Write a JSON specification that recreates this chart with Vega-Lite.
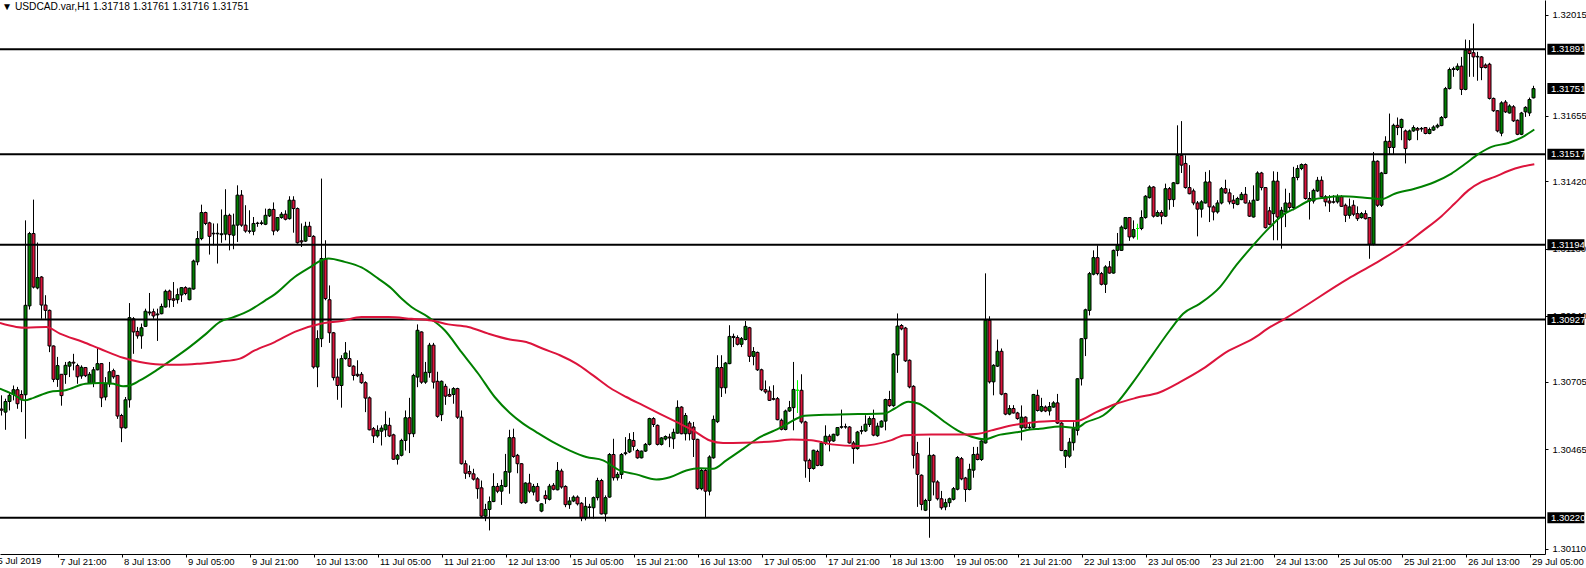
{
"$schema": "https://vega.github.io/schema/vega-lite/v6.json",
"width": 1545, "height": 554,
"autosize": {"type": "none"},
"padding": {"left": 0, "top": 0, "right": 41, "bottom": 14},
"background": "white",
"title": {"text": "▼  USDCAD.var,H1  1.31718 1.31761 1.31716 1.31751", "anchor": "start", "frame": "group", "offset": -12, "font": "Liberation Sans", "fontSize": 10.2, "fontWeight": "normal", "color": "black", "dx": 2},
"config": {"view": {"stroke": null}, "axis": {"grid": false, "title": null, "domainColor": "black", "tickColor": "black", "labelColor": "black", "labelFont": "Liberation Sans", "labelFontSize": 9.5, "labelOverlap": false, "labelFlush": false}},
"datasets": {
"c": [
{"i":2,"o":1.30608,"h":1.30657,"l":1.30585,"c":1.30604},
{"i":3,"o":1.30597,"h":1.30645,"l":1.30534,"c":1.30635},
{"i":4,"o":1.30635,"h":1.30669,"l":1.30603,"c":1.30657},
{"i":5,"o":1.30660,"h":1.30692,"l":1.30639,"c":1.30677},
{"i":6,"o":1.30677,"h":1.30687,"l":1.30609,"c":1.30627},
{"i":7,"o":1.30660,"h":1.30675,"l":1.30597,"c":1.30641},
{"i":8,"o":1.30659,"h":1.31281,"l":1.30502,"c":1.30978},
{"i":9,"o":1.30976,"h":1.31240,"l":1.30963,"c":1.31234},
{"i":10,"o":1.31234,"h":1.31355,"l":1.31038,"c":1.31043},
{"i":11,"o":1.31040,"h":1.31202,"l":1.31035,"c":1.31077},
{"i":12,"o":1.31079,"h":1.31082,"l":1.30930,"c":1.30979},
{"i":13,"o":1.30979,"h":1.31014,"l":1.30930,"c":1.30960},
{"i":14,"o":1.30960,"h":1.30963,"l":1.30811,"c":1.30833},
{"i":15,"o":1.30833,"h":1.30835,"l":1.30704,"c":1.30714},
{"i":16,"o":1.30714,"h":1.30794,"l":1.30687,"c":1.30763},
{"i":17,"o":1.30732,"h":1.30732,"l":1.30620,"c":1.30656},
{"i":18,"o":1.30731,"h":1.30776,"l":1.30698,"c":1.30764},
{"i":19,"o":1.30761,"h":1.30779,"l":1.30722,"c":1.30775},
{"i":20,"o":1.30775,"h":1.30805,"l":1.30746,"c":1.30772},
{"i":21,"o":1.30763,"h":1.30770,"l":1.30698,"c":1.30723},
{"i":22,"o":1.30726,"h":1.30764,"l":1.30716,"c":1.30757},
{"i":23,"o":1.30756,"h":1.30758,"l":1.30722,"c":1.30727},
{"i":24,"o":1.30701,"h":1.30740,"l":1.30698,"c":1.30732},
{"i":25,"o":1.30701,"h":1.30758,"l":1.30686,"c":1.30748},
{"i":26,"o":1.30748,"h":1.30829,"l":1.30746,"c":1.30770},
{"i":27,"o":1.30770,"h":1.30772,"l":1.30615,"c":1.30648},
{"i":28,"o":1.30651,"h":1.30722,"l":1.30639,"c":1.30698},
{"i":29,"o":1.30698,"h":1.30776,"l":1.30686,"c":1.30741},
{"i":30,"o":1.30745,"h":1.30752,"l":1.30716,"c":1.30723},
{"i":31,"o":1.30728,"h":1.30728,"l":1.30573,"c":1.30583},
{"i":32,"o":1.30585,"h":1.30591,"l":1.30490,"c":1.30541},
{"i":33,"o":1.30541,"h":1.30651,"l":1.30538,"c":1.30641},
{"i":34,"o":1.30641,"h":1.30986,"l":1.30613,"c":1.30934},
{"i":35,"o":1.30930,"h":1.30936,"l":1.30805,"c":1.30883},
{"i":36,"o":1.30885,"h":1.30901,"l":1.30859,"c":1.30869},
{"i":37,"o":1.30869,"h":1.30913,"l":1.30823,"c":1.30898},
{"i":38,"o":1.30903,"h":1.30966,"l":1.30901,"c":1.30957},
{"i":39,"o":1.30954,"h":1.31022,"l":1.30942,"c":1.30951},
{"i":40,"o":1.30955,"h":1.30966,"l":1.30930,"c":1.30940},
{"i":41,"o":1.30944,"h":1.30966,"l":1.30851,"c":1.30947},
{"i":42,"o":1.30948,"h":1.30984,"l":1.30946,"c":1.30974},
{"i":43,"o":1.30972,"h":1.31034,"l":1.30970,"c":1.31028},
{"i":44,"o":1.31029,"h":1.31034,"l":1.30970,"c":1.30998},
{"i":45,"o":1.31001,"h":1.31061,"l":1.30972,"c":1.30996},
{"i":46,"o":1.30998,"h":1.31038,"l":1.30984,"c":1.31016},
{"i":47,"o":1.31015,"h":1.31043,"l":1.30990,"c":1.31041},
{"i":48,"o":1.31041,"h":1.31046,"l":1.31014,"c":1.31020},
{"i":49,"o":1.30998,"h":1.31041,"l":1.30996,"c":1.31039},
{"i":50,"o":1.31036,"h":1.31141,"l":1.31034,"c":1.31136},
{"i":51,"o":1.31133,"h":1.31243,"l":1.31121,"c":1.31216},
{"i":52,"o":1.31216,"h":1.31337,"l":1.31210,"c":1.31309},
{"i":53,"o":1.31309,"h":1.31312,"l":1.31264,"c":1.31270},
{"i":54,"o":1.31272,"h":1.31276,"l":1.31159,"c":1.31224},
{"i":55,"o":1.31235,"h":1.31270,"l":1.31192,"c":1.31233},
{"i":56,"o":1.31233,"h":1.31270,"l":1.31127,"c":1.31235},
{"i":57,"o":1.31230,"h":1.31320,"l":1.31201,"c":1.31233},
{"i":58,"o":1.31232,"h":1.31392,"l":1.31210,"c":1.31299},
{"i":59,"o":1.31299,"h":1.31305,"l":1.31174,"c":1.31230},
{"i":60,"o":1.31228,"h":1.31305,"l":1.31178,"c":1.31264},
{"i":61,"o":1.31264,"h":1.31406,"l":1.31204,"c":1.31371},
{"i":62,"o":1.31371,"h":1.31389,"l":1.31258,"c":1.31264},
{"i":63,"o":1.31264,"h":1.31335,"l":1.31237,"c":1.31243},
{"i":64,"o":1.31243,"h":1.31317,"l":1.31234,"c":1.31242},
{"i":65,"o":1.31242,"h":1.31293,"l":1.31228,"c":1.31270},
{"i":66,"o":1.31270,"h":1.31276,"l":1.31258,"c":1.31271},
{"i":67,"o":1.31270,"h":1.31281,"l":1.31264,"c":1.31272},
{"i":68,"o":1.31267,"h":1.31323,"l":1.31264,"c":1.31299},
{"i":69,"o":1.31297,"h":1.31323,"l":1.31293,"c":1.31320},
{"i":70,"o":1.31320,"h":1.31345,"l":1.31228,"c":1.31243},
{"i":71,"o":1.31246,"h":1.31293,"l":1.31240,"c":1.31291},
{"i":72,"o":1.31291,"h":1.31311,"l":1.31287,"c":1.31303},
{"i":73,"o":1.31303,"h":1.31317,"l":1.31281,"c":1.31285},
{"i":74,"o":1.31287,"h":1.31367,"l":1.31284,"c":1.31353},
{"i":75,"o":1.31353,"h":1.31367,"l":1.31237,"c":1.31323},
{"i":76,"o":1.31323,"h":1.31327,"l":1.31198,"c":1.31201},
{"i":77,"o":1.31208,"h":1.31270,"l":1.31186,"c":1.31204},
{"i":78,"o":1.31207,"h":1.31276,"l":1.31204,"c":1.31260},
{"i":79,"o":1.31260,"h":1.31276,"l":1.31222,"c":1.31224},
{"i":80,"o":1.31224,"h":1.31228,"l":1.30752,"c":1.30758},
{"i":81,"o":1.30758,"h":1.30889,"l":1.30686,"c":1.30859},
{"i":82,"o":1.30859,"h":1.31430,"l":1.30829,"c":1.31145},
{"i":83,"o":1.31145,"h":1.31210,"l":1.30996,"c":1.31002},
{"i":84,"o":1.30998,"h":1.31049,"l":1.30844,"c":1.30880},
{"i":85,"o":1.30880,"h":1.30883,"l":1.30710,"c":1.30720},
{"i":86,"o":1.30722,"h":1.30788,"l":1.30641,"c":1.30692},
{"i":87,"o":1.30692,"h":1.30800,"l":1.30613,"c":1.30788},
{"i":88,"o":1.30788,"h":1.30847,"l":1.30784,"c":1.30808},
{"i":89,"o":1.30788,"h":1.30817,"l":1.30758,"c":1.30761},
{"i":90,"o":1.30761,"h":1.30764,"l":1.30710,"c":1.30728},
{"i":91,"o":1.30732,"h":1.30782,"l":1.30722,"c":1.30727},
{"i":92,"o":1.30732,"h":1.30740,"l":1.30698,"c":1.30702},
{"i":93,"o":1.30702,"h":1.30707,"l":1.30597,"c":1.30647},
{"i":94,"o":1.30648,"h":1.30653,"l":1.30532,"c":1.30534},
{"i":95,"o":1.30538,"h":1.30544,"l":1.30487,"c":1.30512},
{"i":96,"o":1.30512,"h":1.30550,"l":1.30506,"c":1.30532},
{"i":97,"o":1.30529,"h":1.30550,"l":1.30478,"c":1.30540},
{"i":98,"o":1.30534,"h":1.30600,"l":1.30508,"c":1.30552},
{"i":99,"o":1.30550,"h":1.30577,"l":1.30508,"c":1.30512},
{"i":100,"o":1.30516,"h":1.30520,"l":1.30427,"c":1.30429},
{"i":101,"o":1.30429,"h":1.30448,"l":1.30410,"c":1.30443},
{"i":102,"o":1.30443,"h":1.30502,"l":1.30439,"c":1.30496},
{"i":103,"o":1.30496,"h":1.30603,"l":1.30460,"c":1.30577},
{"i":104,"o":1.30577,"h":1.30648,"l":1.30451,"c":1.30520},
{"i":105,"o":1.30520,"h":1.30734,"l":1.30508,"c":1.30728},
{"i":106,"o":1.30722,"h":1.30910,"l":1.30686,"c":1.30889},
{"i":107,"o":1.30883,"h":1.30885,"l":1.30698,"c":1.30704},
{"i":108,"o":1.30704,"h":1.30776,"l":1.30698,"c":1.30739},
{"i":109,"o":1.30738,"h":1.30844,"l":1.30720,"c":1.30836},
{"i":110,"o":1.30836,"h":1.30844,"l":1.30681,"c":1.30704},
{"i":111,"o":1.30707,"h":1.30741,"l":1.30577,"c":1.30582},
{"i":112,"o":1.30588,"h":1.30710,"l":1.30565,"c":1.30707},
{"i":113,"o":1.30689,"h":1.30698,"l":1.30623,"c":1.30654},
{"i":114,"o":1.30660,"h":1.30681,"l":1.30651,"c":1.30654},
{"i":115,"o":1.30660,"h":1.30686,"l":1.30627,"c":1.30681},
{"i":116,"o":1.30681,"h":1.30684,"l":1.30573,"c":1.30579},
{"i":117,"o":1.30579,"h":1.30603,"l":1.30410,"c":1.30413},
{"i":118,"o":1.30413,"h":1.30425,"l":1.30359,"c":1.30379},
{"i":119,"o":1.30385,"h":1.30407,"l":1.30365,"c":1.30377},
{"i":120,"o":1.30377,"h":1.30395,"l":1.30353,"c":1.30358},
{"i":121,"o":1.30359,"h":1.30365,"l":1.30288,"c":1.30324},
{"i":122,"o":1.30327,"h":1.30353,"l":1.30222,"c":1.30226},
{"i":123,"o":1.30226,"h":1.30270,"l":1.30208,"c":1.30250},
{"i":124,"o":1.30250,"h":1.30296,"l":1.30175,"c":1.30278},
{"i":125,"o":1.30278,"h":1.30379,"l":1.30276,"c":1.30332},
{"i":126,"o":1.30332,"h":1.30344,"l":1.30308,"c":1.30315},
{"i":127,"o":1.30315,"h":1.30356,"l":1.30266,"c":1.30335},
{"i":128,"o":1.30332,"h":1.30448,"l":1.30329,"c":1.30385},
{"i":129,"o":1.30383,"h":1.30534,"l":1.30306,"c":1.30506},
{"i":130,"o":1.30506,"h":1.30538,"l":1.30434,"c":1.30439},
{"i":131,"o":1.30443,"h":1.30448,"l":1.30379,"c":1.30413},
{"i":132,"o":1.30413,"h":1.30415,"l":1.30270,"c":1.30274},
{"i":133,"o":1.30274,"h":1.30347,"l":1.30270,"c":1.30344},
{"i":134,"o":1.30344,"h":1.30377,"l":1.30308,"c":1.30315},
{"i":135,"o":1.30312,"h":1.30341,"l":1.30300,"c":1.30332},
{"i":136,"o":1.30332,"h":1.30344,"l":1.30276,"c":1.30280},
{"i":137,"o":1.30244,"h":1.30272,"l":1.30240,"c":1.30270},
{"i":138,"o":1.30300,"h":1.30318,"l":1.30270,"c":1.30288},
{"i":139,"o":1.30286,"h":1.30341,"l":1.30282,"c":1.30333},
{"i":140,"o":1.30336,"h":1.30344,"l":1.30318,"c":1.30322},
{"i":141,"o":1.30320,"h":1.30419,"l":1.30318,"c":1.30389},
{"i":142,"o":1.30387,"h":1.30395,"l":1.30324,"c":1.30330},
{"i":143,"o":1.30332,"h":1.30336,"l":1.30258,"c":1.30267},
{"i":144,"o":1.30267,"h":1.30294,"l":1.30252,"c":1.30280},
{"i":145,"o":1.30280,"h":1.30300,"l":1.30276,"c":1.30294},
{"i":146,"o":1.30294,"h":1.30300,"l":1.30264,"c":1.30270},
{"i":147,"o":1.30272,"h":1.30276,"l":1.30208,"c":1.30220},
{"i":148,"o":1.30220,"h":1.30294,"l":1.30211,"c":1.30261},
{"i":149,"o":1.30257,"h":1.30270,"l":1.30222,"c":1.30259},
{"i":150,"o":1.30256,"h":1.30296,"l":1.30217,"c":1.30292},
{"i":151,"o":1.30292,"h":1.30363,"l":1.30282,"c":1.30353},
{"i":152,"o":1.30353,"h":1.30359,"l":1.30232,"c":1.30234},
{"i":153,"o":1.30234,"h":1.30300,"l":1.30207,"c":1.30292},
{"i":154,"o":1.30294,"h":1.30451,"l":1.30292,"c":1.30446},
{"i":155,"o":1.30446,"h":1.30502,"l":1.30353,"c":1.30363},
{"i":156,"o":1.30363,"h":1.30383,"l":1.30353,"c":1.30375},
{"i":157,"o":1.30375,"h":1.30451,"l":1.30359,"c":1.30446},
{"i":158,"o":1.30449,"h":1.30508,"l":1.30443,"c":1.30452},
{"i":159,"o":1.30455,"h":1.30522,"l":1.30451,"c":1.30499},
{"i":160,"o":1.30496,"h":1.30526,"l":1.30460,"c":1.30475},
{"i":161,"o":1.30460,"h":1.30466,"l":1.30431,"c":1.30434},
{"i":162,"o":1.30434,"h":1.30460,"l":1.30432,"c":1.30458},
{"i":163,"o":1.30458,"h":1.30487,"l":1.30455,"c":1.30482},
{"i":164,"o":1.30482,"h":1.30577,"l":1.30478,"c":1.30574},
{"i":165,"o":1.30574,"h":1.30579,"l":1.30544,"c":1.30553},
{"i":166,"o":1.30550,"h":1.30553,"l":1.30478,"c":1.30482},
{"i":167,"o":1.30482,"h":1.30508,"l":1.30478,"c":1.30505},
{"i":168,"o":1.30501,"h":1.30514,"l":1.30496,"c":1.30510},
{"i":169,"o":1.30508,"h":1.30520,"l":1.30472,"c":1.30505},
{"i":170,"o":1.30502,"h":1.30538,"l":1.30466,"c":1.30525},
{"i":171,"o":1.30522,"h":1.30639,"l":1.30520,"c":1.30614},
{"i":172,"o":1.30615,"h":1.30618,"l":1.30518,"c":1.30520},
{"i":173,"o":1.30520,"h":1.30594,"l":1.30496,"c":1.30585},
{"i":174,"o":1.30558,"h":1.30565,"l":1.30496,"c":1.30520},
{"i":175,"o":1.30544,"h":1.30562,"l":1.30437,"c":1.30500},
{"i":176,"o":1.30500,"h":1.30502,"l":1.30320,"c":1.30324},
{"i":177,"o":1.30324,"h":1.30395,"l":1.30318,"c":1.30389},
{"i":178,"o":1.30389,"h":1.30395,"l":1.30222,"c":1.30315},
{"i":179,"o":1.30315,"h":1.30443,"l":1.30300,"c":1.30437},
{"i":180,"o":1.30434,"h":1.30585,"l":1.30431,"c":1.30571},
{"i":181,"o":1.30563,"h":1.30800,"l":1.30558,"c":1.30756},
{"i":182,"o":1.30756,"h":1.30800,"l":1.30651,"c":1.30684},
{"i":183,"o":1.30684,"h":1.30776,"l":1.30663,"c":1.30772},
{"i":184,"o":1.30770,"h":1.30907,"l":1.30768,"c":1.30867},
{"i":185,"o":1.30867,"h":1.30877,"l":1.30829,"c":1.30863},
{"i":186,"o":1.30863,"h":1.30871,"l":1.30835,"c":1.30839},
{"i":187,"o":1.30839,"h":1.30865,"l":1.30829,"c":1.30859},
{"i":188,"o":1.30856,"h":1.30922,"l":1.30853,"c":1.30903},
{"i":189,"o":1.30898,"h":1.30901,"l":1.30776,"c":1.30796},
{"i":190,"o":1.30796,"h":1.30829,"l":1.30764,"c":1.30813},
{"i":191,"o":1.30810,"h":1.30813,"l":1.30744,"c":1.30748},
{"i":192,"o":1.30748,"h":1.30752,"l":1.30672,"c":1.30677},
{"i":193,"o":1.30677,"h":1.30710,"l":1.30663,"c":1.30669},
{"i":194,"o":1.30672,"h":1.30689,"l":1.30637,"c":1.30639},
{"i":195,"o":1.30645,"h":1.30693,"l":1.30639,"c":1.30643},
{"i":196,"o":1.30645,"h":1.30651,"l":1.30568,"c":1.30570},
{"i":197,"o":1.30568,"h":1.30574,"l":1.30532,"c":1.30536},
{"i":198,"o":1.30535,"h":1.30606,"l":1.30532,"c":1.30601},
{"i":199,"o":1.30601,"h":1.30637,"l":1.30598,"c":1.30613},
{"i":200,"o":1.30613,"h":1.30776,"l":1.30532,"c":1.30678},
{"i":201,"o":1.30675,"h":1.30711,"l":1.30594,"c":1.30675},
{"i":202,"o":1.30675,"h":1.30732,"l":1.30556,"c":1.30562},
{"i":203,"o":1.30562,"h":1.30566,"l":1.30363,"c":1.30423},
{"i":204,"o":1.30425,"h":1.30431,"l":1.30348,"c":1.30396},
{"i":205,"o":1.30396,"h":1.30463,"l":1.30392,"c":1.30461},
{"i":206,"o":1.30457,"h":1.30463,"l":1.30404,"c":1.30407},
{"i":207,"o":1.30407,"h":1.30494,"l":1.30404,"c":1.30487},
{"i":208,"o":1.30485,"h":1.30550,"l":1.30479,"c":1.30511},
{"i":209,"o":1.30511,"h":1.30518,"l":1.30457,"c":1.30494},
{"i":210,"o":1.30494,"h":1.30520,"l":1.30491,"c":1.30518},
{"i":211,"o":1.30515,"h":1.30544,"l":1.30511,"c":1.30542},
{"i":212,"o":1.30543,"h":1.30606,"l":1.30538,"c":1.30545},
{"i":213,"o":1.30545,"h":1.30556,"l":1.30538,"c":1.30544},
{"i":214,"o":1.30544,"h":1.30547,"l":1.30485,"c":1.30487},
{"i":215,"o":1.30487,"h":1.30494,"l":1.30413,"c":1.30467},
{"i":216,"o":1.30467,"h":1.30530,"l":1.30463,"c":1.30526},
{"i":217,"o":1.30529,"h":1.30548,"l":1.30518,"c":1.30531},
{"i":218,"o":1.30530,"h":1.30586,"l":1.30526,"c":1.30554},
{"i":219,"o":1.30553,"h":1.30582,"l":1.30544,"c":1.30574},
{"i":220,"o":1.30574,"h":1.30606,"l":1.30511,"c":1.30515},
{"i":221,"o":1.30513,"h":1.30559,"l":1.30509,"c":1.30547},
{"i":222,"o":1.30544,"h":1.30568,"l":1.30542,"c":1.30565},
{"i":223,"o":1.30565,"h":1.30645,"l":1.30532,"c":1.30642},
{"i":224,"o":1.30642,"h":1.30673,"l":1.30616,"c":1.30620},
{"i":225,"o":1.30620,"h":1.30808,"l":1.30616,"c":1.30804},
{"i":226,"o":1.30801,"h":1.30949,"l":1.30737,"c":1.30904},
{"i":227,"o":1.30906,"h":1.30911,"l":1.30889,"c":1.30894},
{"i":228,"o":1.30897,"h":1.30901,"l":1.30776,"c":1.30780},
{"i":229,"o":1.30782,"h":1.30785,"l":1.30682,"c":1.30687},
{"i":230,"o":1.30689,"h":1.30693,"l":1.30396,"c":1.30443},
{"i":231,"o":1.30449,"h":1.30491,"l":1.30259,"c":1.30375},
{"i":232,"o":1.30372,"h":1.30375,"l":1.30247,"c":1.30268},
{"i":233,"o":1.30247,"h":1.30288,"l":1.30244,"c":1.30282},
{"i":234,"o":1.30282,"h":1.30506,"l":1.30149,"c":1.30443},
{"i":235,"o":1.30443,"h":1.30447,"l":1.30300,"c":1.30348},
{"i":236,"o":1.30348,"h":1.30354,"l":1.30282,"c":1.30288},
{"i":237,"o":1.30288,"h":1.30316,"l":1.30249,"c":1.30256},
{"i":238,"o":1.30259,"h":1.30288,"l":1.30247,"c":1.30274},
{"i":239,"o":1.30274,"h":1.30292,"l":1.30259,"c":1.30288},
{"i":240,"o":1.30286,"h":1.30330,"l":1.30282,"c":1.30324},
{"i":241,"o":1.30322,"h":1.30440,"l":1.30318,"c":1.30435},
{"i":242,"o":1.30431,"h":1.30437,"l":1.30354,"c":1.30359},
{"i":243,"o":1.30362,"h":1.30366,"l":1.30277,"c":1.30321},
{"i":244,"o":1.30321,"h":1.30413,"l":1.30318,"c":1.30393},
{"i":245,"o":1.30390,"h":1.30473,"l":1.30363,"c":1.30446},
{"i":246,"o":1.30447,"h":1.30473,"l":1.30425,"c":1.30428},
{"i":247,"o":1.30428,"h":1.30497,"l":1.30423,"c":1.30494},
{"i":248,"o":1.30487,"h":1.31092,"l":1.30485,"c":1.30925},
{"i":249,"o":1.30925,"h":1.30939,"l":1.30699,"c":1.30705},
{"i":250,"o":1.30705,"h":1.30768,"l":1.30657,"c":1.30764},
{"i":251,"o":1.30761,"h":1.30856,"l":1.30758,"c":1.30814},
{"i":252,"o":1.30814,"h":1.30824,"l":1.30657,"c":1.30661},
{"i":253,"o":1.30663,"h":1.30666,"l":1.30586,"c":1.30590},
{"i":254,"o":1.30590,"h":1.30622,"l":1.30586,"c":1.30610},
{"i":255,"o":1.30610,"h":1.30622,"l":1.30592,"c":1.30594},
{"i":256,"o":1.30594,"h":1.30598,"l":1.30570,"c":1.30574},
{"i":257,"o":1.30541,"h":1.30621,"l":1.30496,"c":1.30579},
{"i":258,"o":1.30579,"h":1.30582,"l":1.30538,"c":1.30541},
{"i":259,"o":1.30541,"h":1.30561,"l":1.30534,"c":1.30543},
{"i":260,"o":1.30543,"h":1.30662,"l":1.30538,"c":1.30660},
{"i":261,"o":1.30657,"h":1.30677,"l":1.30599,"c":1.30603},
{"i":262,"o":1.30601,"h":1.30648,"l":1.30597,"c":1.30617},
{"i":263,"o":1.30615,"h":1.30621,"l":1.30597,"c":1.30601},
{"i":264,"o":1.30601,"h":1.30633,"l":1.30585,"c":1.30617},
{"i":265,"o":1.30615,"h":1.30636,"l":1.30613,"c":1.30630},
{"i":266,"o":1.30630,"h":1.30662,"l":1.30555,"c":1.30558},
{"i":267,"o":1.30558,"h":1.30561,"l":1.30458,"c":1.30460},
{"i":268,"o":1.30440,"h":1.30463,"l":1.30398,"c":1.30460},
{"i":269,"o":1.30440,"h":1.30505,"l":1.30434,"c":1.30490},
{"i":270,"o":1.30488,"h":1.30561,"l":1.30460,"c":1.30538},
{"i":271,"o":1.30532,"h":1.30718,"l":1.30514,"c":1.30716},
{"i":272,"o":1.30716,"h":1.30861,"l":1.30692,"c":1.30859},
{"i":273,"o":1.30859,"h":1.30966,"l":1.30797,"c":1.30962},
{"i":274,"o":1.30960,"h":1.31097,"l":1.30942,"c":1.31091},
{"i":275,"o":1.31089,"h":1.31174,"l":1.31085,"c":1.31148},
{"i":276,"o":1.31148,"h":1.31192,"l":1.31085,"c":1.31091},
{"i":277,"o":1.31091,"h":1.31097,"l":1.31049,"c":1.31053},
{"i":278,"o":1.31053,"h":1.31121,"l":1.31022,"c":1.31115},
{"i":279,"o":1.31115,"h":1.31136,"l":1.31091,"c":1.31093},
{"i":280,"o":1.31093,"h":1.31177,"l":1.31091,"c":1.31174},
{"i":281,"o":1.31174,"h":1.31236,"l":1.31153,"c":1.31192},
{"i":282,"o":1.31174,"h":1.31263,"l":1.31172,"c":1.31257},
{"i":283,"o":1.31252,"h":1.31293,"l":1.31248,"c":1.31291},
{"i":284,"o":1.31291,"h":1.31293,"l":1.31208,"c":1.31222},
{"i":285,"o":1.31222,"h":1.31281,"l":1.31216,"c":1.31248},
{"i":286,"o":1.31252,"h":1.31269,"l":1.31212,"c":1.31252},
{"i":287,"o":1.31252,"h":1.31317,"l":1.31246,"c":1.31291},
{"i":288,"o":1.31291,"h":1.31371,"l":1.31287,"c":1.31367},
{"i":289,"o":1.31362,"h":1.31406,"l":1.31359,"c":1.31400},
{"i":290,"o":1.31400,"h":1.31403,"l":1.31291,"c":1.31296},
{"i":291,"o":1.31296,"h":1.31317,"l":1.31293,"c":1.31309},
{"i":292,"o":1.31309,"h":1.31317,"l":1.31267,"c":1.31296},
{"i":293,"o":1.31296,"h":1.31412,"l":1.31293,"c":1.31394},
{"i":294,"o":1.31394,"h":1.31400,"l":1.31319,"c":1.31355},
{"i":295,"o":1.31355,"h":1.31418,"l":1.31329,"c":1.31415},
{"i":296,"o":1.31412,"h":1.31620,"l":1.31410,"c":1.31513},
{"i":297,"o":1.31513,"h":1.31635,"l":1.31450,"c":1.31478},
{"i":298,"o":1.31484,"h":1.31513,"l":1.31394,"c":1.31398},
{"i":299,"o":1.31398,"h":1.31478,"l":1.31374,"c":1.31376},
{"i":300,"o":1.31386,"h":1.31394,"l":1.31335,"c":1.31343},
{"i":301,"o":1.31343,"h":1.31350,"l":1.31224,"c":1.31321},
{"i":302,"o":1.31321,"h":1.31353,"l":1.31291,"c":1.31347},
{"i":303,"o":1.31343,"h":1.31454,"l":1.31341,"c":1.31418},
{"i":304,"o":1.31418,"h":1.31460,"l":1.31275,"c":1.31329},
{"i":305,"o":1.31329,"h":1.31335,"l":1.31281,"c":1.31311},
{"i":306,"o":1.31311,"h":1.31353,"l":1.31305,"c":1.31343},
{"i":307,"o":1.31343,"h":1.31400,"l":1.31338,"c":1.31394},
{"i":308,"o":1.31394,"h":1.31426,"l":1.31376,"c":1.31379},
{"i":309,"o":1.31379,"h":1.31394,"l":1.31338,"c":1.31347},
{"i":310,"o":1.31353,"h":1.31371,"l":1.31323,"c":1.31341},
{"i":311,"o":1.31338,"h":1.31365,"l":1.31335,"c":1.31359},
{"i":312,"o":1.31355,"h":1.31382,"l":1.31353,"c":1.31374},
{"i":313,"o":1.31374,"h":1.31400,"l":1.31341,"c":1.31343},
{"i":314,"o":1.31343,"h":1.31353,"l":1.31293,"c":1.31296},
{"i":315,"o":1.31293,"h":1.31406,"l":1.31291,"c":1.31353},
{"i":316,"o":1.31353,"h":1.31456,"l":1.31350,"c":1.31450},
{"i":317,"o":1.31450,"h":1.31454,"l":1.31388,"c":1.31398},
{"i":318,"o":1.31398,"h":1.31400,"l":1.31252,"c":1.31255},
{"i":319,"o":1.31315,"h":1.31329,"l":1.31263,"c":1.31267},
{"i":320,"o":1.31305,"h":1.31456,"l":1.31210,"c":1.31421},
{"i":321,"o":1.31421,"h":1.31454,"l":1.31210,"c":1.31293},
{"i":322,"o":1.31293,"h":1.31329,"l":1.31180,"c":1.31317},
{"i":323,"o":1.31311,"h":1.31394,"l":1.31257,"c":1.31343},
{"i":324,"o":1.31343,"h":1.31379,"l":1.31319,"c":1.31327},
{"i":325,"o":1.31327,"h":1.31472,"l":1.31317,"c":1.31434},
{"i":326,"o":1.31434,"h":1.31478,"l":1.31424,"c":1.31466},
{"i":327,"o":1.31466,"h":1.31484,"l":1.31460,"c":1.31480},
{"i":328,"o":1.31480,"h":1.31484,"l":1.31355,"c":1.31359},
{"i":329,"o":1.31359,"h":1.31382,"l":1.31284,"c":1.31350},
{"i":330,"o":1.31350,"h":1.31394,"l":1.31341,"c":1.31388},
{"i":331,"o":1.31386,"h":1.31436,"l":1.31382,"c":1.31424},
{"i":332,"o":1.31424,"h":1.31438,"l":1.31362,"c":1.31365},
{"i":333,"o":1.31365,"h":1.31371,"l":1.31331,"c":1.31347},
{"i":334,"o":1.31350,"h":1.31371,"l":1.31311,"c":1.31343},
{"i":335,"o":1.31347,"h":1.31371,"l":1.31341,"c":1.31346},
{"i":336,"o":1.31347,"h":1.31374,"l":1.31341,"c":1.31365},
{"i":337,"o":1.31365,"h":1.31371,"l":1.31329,"c":1.31331},
{"i":338,"o":1.31335,"h":1.31341,"l":1.31275,"c":1.31299},
{"i":339,"o":1.31299,"h":1.31359,"l":1.31287,"c":1.31329},
{"i":340,"o":1.31335,"h":1.31353,"l":1.31296,"c":1.31303},
{"i":341,"o":1.31305,"h":1.31331,"l":1.31279,"c":1.31287},
{"i":342,"o":1.31291,"h":1.31311,"l":1.31287,"c":1.31305},
{"i":343,"o":1.31305,"h":1.31317,"l":1.31284,"c":1.31287},
{"i":344,"o":1.31291,"h":1.31293,"l":1.31144,"c":1.31196},
{"i":345,"o":1.31196,"h":1.31525,"l":1.31192,"c":1.31492},
{"i":346,"o":1.31492,"h":1.31495,"l":1.31329,"c":1.31335},
{"i":347,"o":1.31335,"h":1.31454,"l":1.31329,"c":1.31450},
{"i":348,"o":1.31448,"h":1.31581,"l":1.31446,"c":1.31563},
{"i":349,"o":1.31563,"h":1.31662,"l":1.31517,"c":1.31541},
{"i":350,"o":1.31541,"h":1.31626,"l":1.31517,"c":1.31620},
{"i":351,"o":1.31620,"h":1.31648,"l":1.31585,"c":1.31612},
{"i":352,"o":1.31612,"h":1.31644,"l":1.31567,"c":1.31641},
{"i":353,"o":1.31600,"h":1.31605,"l":1.31484,"c":1.31537},
{"i":354,"o":1.31569,"h":1.31605,"l":1.31565,"c":1.31600},
{"i":355,"o":1.31600,"h":1.31620,"l":1.31597,"c":1.31612},
{"i":356,"o":1.31609,"h":1.31614,"l":1.31567,"c":1.31603},
{"i":357,"o":1.31607,"h":1.31614,"l":1.31597,"c":1.31609},
{"i":358,"o":1.31612,"h":1.31614,"l":1.31588,"c":1.31591},
{"i":359,"o":1.31591,"h":1.31612,"l":1.31588,"c":1.31605},
{"i":360,"o":1.31603,"h":1.31620,"l":1.31600,"c":1.31614},
{"i":361,"o":1.31614,"h":1.31626,"l":1.31609,"c":1.31620},
{"i":362,"o":1.31619,"h":1.31653,"l":1.31617,"c":1.31648},
{"i":363,"o":1.31648,"h":1.31757,"l":1.31644,"c":1.31751},
{"i":364,"o":1.31751,"h":1.31826,"l":1.31748,"c":1.31819},
{"i":365,"o":1.31819,"h":1.31829,"l":1.31793,"c":1.31822},
{"i":366,"o":1.31819,"h":1.31841,"l":1.31814,"c":1.31831},
{"i":367,"o":1.31831,"h":1.31864,"l":1.31728,"c":1.31748},
{"i":368,"o":1.31748,"h":1.31926,"l":1.31745,"c":1.31888},
{"i":369,"o":1.31888,"h":1.31924,"l":1.31793,"c":1.31876},
{"i":370,"o":1.31879,"h":1.31983,"l":1.31793,"c":1.31864},
{"i":371,"o":1.31864,"h":1.31882,"l":1.31779,"c":1.31866},
{"i":372,"o":1.31864,"h":1.31867,"l":1.31781,"c":1.31826},
{"i":373,"o":1.31835,"h":1.31841,"l":1.31823,"c":1.31826},
{"i":374,"o":1.31838,"h":1.31843,"l":1.31712,"c":1.31716},
{"i":375,"o":1.31716,"h":1.31719,"l":1.31668,"c":1.31672},
{"i":376,"o":1.31672,"h":1.31674,"l":1.31595,"c":1.31600},
{"i":377,"o":1.31592,"h":1.31706,"l":1.31581,"c":1.31700},
{"i":378,"o":1.31703,"h":1.31710,"l":1.31664,"c":1.31668},
{"i":379,"o":1.31664,"h":1.31695,"l":1.31662,"c":1.31689},
{"i":380,"o":1.31686,"h":1.31692,"l":1.31632,"c":1.31636},
{"i":381,"o":1.31638,"h":1.31641,"l":1.31585,"c":1.31588},
{"i":382,"o":1.31588,"h":1.31668,"l":1.31585,"c":1.31664},
{"i":383,"o":1.31668,"h":1.31688,"l":1.31650,"c":1.31684},
{"i":384,"o":1.31664,"h":1.31719,"l":1.31653,"c":1.31712},
{"i":385,"o":1.31718,"h":1.31761,"l":1.31716,"c":1.31751}
],
"ma": [
{"i":1.6,"v":1.30681,"s":"f"},{"i":5,"v":1.30660,"s":"f"},{"i":7.8,"v":1.30639,"s":"f"},{"i":10,"v":1.30648,"s":"f"},{"i":14,"v":1.30669,"s":"f"},{"i":18,"v":1.30675,"s":"f"},{"i":23,"v":1.30698,"s":"f"},{"i":26.6,"v":1.30701,"s":"f"},{"i":30,"v":1.30698,"s":"f"},{"i":32.4,"v":1.30689,"s":"f"},{"i":34,"v":1.30692,"s":"f"},{"i":36.6,"v":1.30710,"s":"f"},{"i":40.7,"v":1.30746,"s":"f"},{"i":45,"v":1.30788,"s":"f"},{"i":49,"v":1.30829,"s":"f"},{"i":53.2,"v":1.30877,"s":"f"},{"i":56.6,"v":1.30919,"s":"f"},{"i":60,"v":1.30936,"s":"f"},{"i":64,"v":1.30960,"s":"f"},{"i":67.8,"v":1.30994,"s":"f"},{"i":70.3,"v":1.31017,"s":"f"},{"i":75.3,"v":1.31079,"s":"f"},{"i":79.5,"v":1.31117,"s":"f"},{"i":82,"v":1.31139,"s":"f"},{"i":83.7,"v":1.31145,"s":"f"},{"i":87.8,"v":1.31133,"s":"f"},{"i":92,"v":1.31113,"s":"f"},{"i":96.2,"v":1.31073,"s":"f"},{"i":99.5,"v":1.31038,"s":"f"},{"i":102,"v":1.31002,"s":"f"},{"i":104.5,"v":1.30972,"s":"f"},{"i":108.7,"v":1.30936,"s":"f"},{"i":112.8,"v":1.30889,"s":"f"},{"i":117,"v":1.30811,"s":"f"},{"i":121.2,"v":1.30734,"s":"f"},{"i":125.3,"v":1.30651,"s":"f"},{"i":129.1,"v":1.30594,"s":"f"},{"i":132.4,"v":1.30556,"s":"f"},{"i":135.7,"v":1.30526,"s":"f"},{"i":139.9,"v":1.30490,"s":"f"},{"i":144.1,"v":1.30460,"s":"f"},{"i":148.2,"v":1.30437,"s":"f"},{"i":152.4,"v":1.30425,"s":"f"},{"i":156.6,"v":1.30389,"s":"f"},{"i":160.7,"v":1.30375,"s":"f"},{"i":165.7,"v":1.30357,"s":"f"},{"i":169.1,"v":1.30365,"s":"f"},{"i":173.2,"v":1.30389,"s":"f"},{"i":176.6,"v":1.30397,"s":"f"},{"i":179.9,"v":1.30395,"s":"f"},{"i":183.2,"v":1.30425,"s":"f"},{"i":187.4,"v":1.30466,"s":"f"},{"i":191.6,"v":1.30508,"s":"f"},{"i":195.3,"v":1.30532,"s":"f"},{"i":197.8,"v":1.30550,"s":"f"},{"i":202.8,"v":1.30584,"s":"f"},{"i":209.5,"v":1.30588,"s":"f"},{"i":216.2,"v":1.30590,"s":"f"},{"i":222.8,"v":1.30592,"s":"f"},{"i":225.3,"v":1.30610,"s":"f"},{"i":228.7,"v":1.30634,"s":"f"},{"i":231.2,"v":1.30628,"s":"f"},{"i":234.5,"v":1.30598,"s":"f"},{"i":237.8,"v":1.30562,"s":"f"},{"i":241.2,"v":1.30530,"s":"f"},{"i":244.5,"v":1.30509,"s":"f"},{"i":247.8,"v":1.30500,"s":"f"},{"i":251.2,"v":1.30515,"s":"f"},{"i":256.2,"v":1.30526,"s":"f"},{"i":259.1,"v":1.30535,"s":"f"},{"i":261.6,"v":1.30538,"s":"f"},{"i":266.6,"v":1.30546,"s":"f"},{"i":270.7,"v":1.30541,"s":"f"},{"i":273.2,"v":1.30561,"s":"f"},{"i":277.4,"v":1.30585,"s":"f"},{"i":280.7,"v":1.30627,"s":"f"},{"i":284.9,"v":1.30704,"s":"f"},{"i":289.9,"v":1.30805,"s":"f"},{"i":294.1,"v":1.30889,"s":"f"},{"i":297.4,"v":1.30948,"s":"f"},{"i":301.6,"v":1.30984,"s":"f"},{"i":306.6,"v":1.31043,"s":"f"},{"i":310.7,"v":1.31121,"s":"f"},{"i":314.9,"v":1.31192,"s":"f"},{"i":319.1,"v":1.31257,"s":"f"},{"i":322.8,"v":1.31305,"s":"f"},{"i":325.3,"v":1.31323,"s":"f"},{"i":328.7,"v":1.31350,"s":"f"},{"i":332.8,"v":1.31362,"s":"f"},{"i":337,"v":1.31367,"s":"f"},{"i":342.8,"v":1.31362,"s":"f"},{"i":347,"v":1.31357,"s":"f"},{"i":350.3,"v":1.31376,"s":"f"},{"i":355.3,"v":1.31394,"s":"f"},{"i":360.3,"v":1.31418,"s":"f"},{"i":364.5,"v":1.31448,"s":"f"},{"i":367.8,"v":1.31481,"s":"f"},{"i":371.2,"v":1.31517,"s":"f"},{"i":374.5,"v":1.31543,"s":"f"},{"i":378.7,"v":1.31557,"s":"f"},{"i":382,"v":1.31576,"s":"f"},{"i":385.2,"v":1.31605,"s":"f"},
{"i":1.6,"v":1.30915,"s":"s"},{"i":5.7,"v":1.30901,"s":"s"},{"i":8.2,"v":1.30898,"s":"s"},{"i":13.2,"v":1.30901,"s":"s"},{"i":16.6,"v":1.30877,"s":"s"},{"i":22.4,"v":1.30847,"s":"s"},{"i":26.6,"v":1.30823,"s":"s"},{"i":32.4,"v":1.30791,"s":"s"},{"i":36.6,"v":1.30776,"s":"s"},{"i":41.6,"v":1.30767,"s":"s"},{"i":46.6,"v":1.30766,"s":"s"},{"i":51.6,"v":1.30770,"s":"s"},{"i":56.6,"v":1.30777,"s":"s"},{"i":61.6,"v":1.30788,"s":"s"},{"i":65.3,"v":1.30817,"s":"s"},{"i":70.3,"v":1.30847,"s":"s"},{"i":75.3,"v":1.30883,"s":"s"},{"i":82,"v":1.30913,"s":"s"},{"i":87,"v":1.30922,"s":"s"},{"i":92,"v":1.30936,"s":"s"},{"i":98.7,"v":1.30936,"s":"s"},{"i":104.5,"v":1.30930,"s":"s"},{"i":109.5,"v":1.30924,"s":"s"},{"i":113.7,"v":1.30910,"s":"s"},{"i":118.7,"v":1.30901,"s":"s"},{"i":123.7,"v":1.30877,"s":"s"},{"i":129.1,"v":1.30856,"s":"s"},{"i":133.2,"v":1.30847,"s":"s"},{"i":137.4,"v":1.30823,"s":"s"},{"i":141.6,"v":1.30800,"s":"s"},{"i":145.7,"v":1.30770,"s":"s"},{"i":149.9,"v":1.30728,"s":"s"},{"i":154.1,"v":1.30684,"s":"s"},{"i":158.2,"v":1.30651,"s":"s"},{"i":162.4,"v":1.30621,"s":"s"},{"i":166.6,"v":1.30591,"s":"s"},{"i":170.7,"v":1.30562,"s":"s"},{"i":174.9,"v":1.30532,"s":"s"},{"i":179.1,"v":1.30496,"s":"s"},{"i":182.4,"v":1.30487,"s":"s"},{"i":187.4,"v":1.30488,"s":"s"},{"i":195.3,"v":1.30493,"s":"s"},{"i":199.5,"v":1.30499,"s":"s"},{"i":204.5,"v":1.30497,"s":"s"},{"i":209.5,"v":1.30482,"s":"s"},{"i":216.2,"v":1.30476,"s":"s"},{"i":220.3,"v":1.30482,"s":"s"},{"i":224.5,"v":1.30497,"s":"s"},{"i":227.8,"v":1.30515,"s":"s"},{"i":234.5,"v":1.30517,"s":"s"},{"i":242.8,"v":1.30517,"s":"s"},{"i":246.2,"v":1.30520,"s":"s"},{"i":249.5,"v":1.30532,"s":"s"},{"i":252.8,"v":1.30544,"s":"s"},{"i":256.2,"v":1.30554,"s":"s"},{"i":259.1,"v":1.30559,"s":"s"},{"i":264.9,"v":1.30565,"s":"s"},{"i":270.7,"v":1.30565,"s":"s"},{"i":275.7,"v":1.30597,"s":"s"},{"i":280.7,"v":1.30627,"s":"s"},{"i":285.7,"v":1.30648,"s":"s"},{"i":291.6,"v":1.30668,"s":"s"},{"i":296.6,"v":1.30704,"s":"s"},{"i":302.4,"v":1.30752,"s":"s"},{"i":308.2,"v":1.30811,"s":"s"},{"i":314.9,"v":1.30859,"s":"s"},{"i":319.1,"v":1.30900,"s":"s"},{"i":322.8,"v":1.30930,"s":"s"},{"i":338.7,"v":1.31073,"s":"s"},{"i":345.3,"v":1.31127,"s":"s"},{"i":352,"v":1.31186,"s":"s"},{"i":357,"v":1.31240,"s":"s"},{"i":362,"v":1.31296,"s":"s"},{"i":365.3,"v":1.31341,"s":"s"},{"i":368.7,"v":1.31388,"s":"s"},{"i":372,"v":1.31418,"s":"s"},{"i":375.3,"v":1.31436,"s":"s"},{"i":378.7,"v":1.31457,"s":"s"},{"i":382,"v":1.31472,"s":"s"},{"i":385.2,"v":1.31481,"s":"s"}
],
"lv": [{"p":1.31891},{"p":1.31517},{"p":1.31194},{"p":1.30927},{"p":1.30220}],
"tag": [{"p":1.31891},{"p":1.31751},{"p":1.31517},{"p":1.31194},{"p":1.30927},{"p":1.30220}],
"xl": [{"i":0,"t":"5 Jul 2019"}]
},
"layer": [
{"data": {"name": "c"}, "mark": {"type": "rule", "strokeWidth": 1},
 "encoding": {
  "x": {"field": "i", "type": "quantitative", "scale": {"domain": [1.625, 387.875], "nice": false, "zero": false, "padding": 0},
        "axis": {"values": [16,32,48,64,80,96,112,128,144,160,176,192,208,224,240,256,272,288,304,320,336,352,368,384],
                 "labelExpr": "['5 Jul 2019','7 Jul 21:00','8 Jul 13:00','9 Jul 05:00','9 Jul 21:00','10 Jul 13:00','11 Jul 05:00','11 Jul 21:00','12 Jul 13:00','15 Jul 05:00','15 Jul 21:00','16 Jul 13:00','17 Jul 05:00','17 Jul 21:00','18 Jul 13:00','19 Jul 05:00','21 Jul 21:00','22 Jul 13:00','23 Jul 05:00','23 Jul 21:00','24 Jul 13:00','25 Jul 05:00','25 Jul 21:00','26 Jul 13:00','29 Jul 05:00'][round(datum.value/16)]",
                 "labelAlign": "left", "labelOffset": 2, "tickSize": 3, "labelPadding": -1, "labelBaseline": "top"}},
  "y": {"field": "l", "type": "quantitative", "scale": {"domain": [1.30091, 1.32067], "nice": false, "zero": false, "padding": 0},
        "axis": {"orient": "right", "values": [1.32015,1.31775,1.31655,1.3154,1.3142,1.313,1.3118,1.3106,1.3094,1.30825,1.30705,1.30585,1.30465,1.3035,1.3011],
                 "format": ".5f", "tickSize": 3, "labelPadding": 4, "labelBaseline": "middle"}},
  "y2": {"field": "h"},
  "color": {"condition": {"test": "datum.c == datum.o", "value": "#00ff00"}, "value": "black"}
 }},
{"data": {"name": "c"}, "mark": {"type": "bar", "size": 3, "strokeWidth": 1},
 "encoding": {
  "x": {"field": "i", "type": "quantitative"},
  "y": {"field": "o", "type": "quantitative"},
  "y2": {"field": "c"},
  "fill": {"condition": [{"test": "datum.c > datum.o", "value": "#008000"}, {"test": "datum.c == datum.o", "value": "#00ff00"}], "value": "#DC143C"},
  "stroke": {"condition": {"test": "datum.c == datum.o", "value": "#00ff00"}, "value": "black"}
 }},
{"data": {"name": "lv"}, "mark": {"type": "rule", "strokeWidth": 2, "color": "black"},
 "encoding": {"y": {"field": "p", "type": "quantitative"}}},
{"data": {"name": "ma"}, "mark": {"type": "line", "strokeWidth": 2, "interpolate": "monotone"},
 "encoding": {
  "x": {"field": "i", "type": "quantitative"},
  "y": {"field": "v", "type": "quantitative"},
  "color": {"field": "s", "type": "nominal", "scale": {"domain": ["f", "s"], "range": ["#008000", "#DC143C"]}, "legend": null}
 }},
{"data": {"name": "tag"}, "mark": {"type": "tick", "orient": "horizontal", "size": 37, "thickness": 11, "color": "black", "opacity": 1},
 "encoding": {"x": {"datum": 393.1}, "y": {"field": "p", "type": "quantitative"}}},
{"data": {"name": "tag"}, "mark": {"type": "text", "align": "left", "baseline": "middle", "color": "white", "font": "Liberation Sans", "fontSize": 9.5},
 "encoding": {"x": {"datum": 389.4}, "y": {"field": "p", "type": "quantitative"}, "text": {"field": "p", "type": "quantitative", "format": ".5f"}}},
{"data": {"name": "xl"}, "mark": {"type": "text", "align": "left", "baseline": "top", "dx": 4, "color": "black", "font": "Liberation Sans", "fontSize": 9.5},
 "encoding": {"x": {"field": "i", "type": "quantitative"}, "y": {"datum": 1.30084}, "text": {"field": "t"}}}
]
}
